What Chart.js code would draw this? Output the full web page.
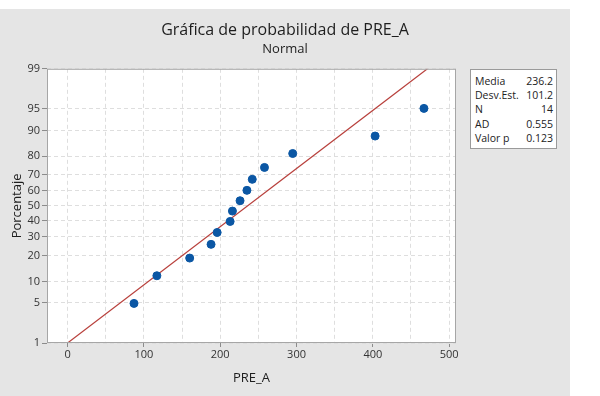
<!DOCTYPE html>
<html>
<head>
<meta charset="utf-8">
<script src="https://cdn.jsdelivr.net/npm/chart.js@4.4.1/dist/chart.umd.min.js"></script>
<style>
    body { margin: 0; background: #ffffff; font-family: "Open Sans", sans-serif; }
    #panel { position: absolute; left: 0; top: 9px; width: 570px; height: 387px; background: #e5e5e5; }
    #stats { position: absolute; left: 470px; top: 60px; width: 85px; background: #fff; border: 1px solid #9a9a9a;
             font-size: 10.5px; color: #222; padding: 4px 0 3px 0; }
    #stats table { border-collapse: collapse; width: 100%; }
    #stats td { padding: 0 3px 0 4px; line-height: 14.2px; white-space: nowrap; }
    #stats td.v { text-align: right; }
</style>
</head>
<body>
<div id="panel">
    <canvas id="probChart" width="570" height="387"></canvas>
    <div id="stats"><table id="statsTable"></table></div>
</div>
<script>
// data
const xValues = [87, 117, 160, 188, 196, 213, 216, 226, 235, 242, 258, 295, 403, 467];
const pctValues = [4.9, 11.8, 18.8, 25.7, 32.6, 39.6, 46.5, 53.5, 60.4, 67.4, 74.3, 81.3, 88.2, 95.1];
const fitX = [0, 471.6];
const fitPct = [1, 99];
const yTickPcts = [1, 5, 10, 20, 30, 40, 50, 60, 70, 80, 90, 95, 99];
const xTicks = [0, 50, 100, 150, 200, 250, 300, 350, 400, 450, 500];
const statLabels = ["Media", "Desv.Est.", "N", "AD", "Valor p"];
const statValues = ["236.2", "101.2", "14", "0.555", "0.123"];

// inverse normal cdf (Acklam), used for the probability scale
function probit(p) {
    const a = [-39.69683028665376, 220.9460984245205, -275.9285104469687, 138.357751867269, -30.66479806614716, 2.506628277459239];
    const b = [-54.47609879822406, 161.5858368580409, -155.6989798598866, 66.80131188771972, -13.28068155288572];
    const c = [-0.007784894002430293, -0.3223964580411365, -2.400758277161838, -2.549732539343734, 4.374664141464968, 2.938163982698783];
    const d = [0.007784695709041462, 0.3224671290700398, 2.445134137142996, 3.754408661907416];
    const pl = 0.02425;
    let q, r;
    if (p < pl) {
        q = Math.sqrt(-2 * Math.log(p));
        return (((((c[0]*q+c[1])*q+c[2])*q+c[3])*q+c[4])*q+c[5]) / ((((d[0]*q+d[1])*q+d[2])*q+d[3])*q+1);
    }
    if (p > 1 - pl) {
        q = Math.sqrt(-2 * Math.log(1 - p));
        return -(((((c[0]*q+c[1])*q+c[2])*q+c[3])*q+c[4])*q+c[5]) / ((((d[0]*q+d[1])*q+d[2])*q+d[3])*q+1);
    }
    q = p - 0.5;
    r = q * q;
    return (((((a[0]*r+a[1])*r+a[2])*r+a[3])*r+a[4])*r+a[5])*q / (((((b[0]*r+b[1])*r+b[2])*r+b[3])*r+b[4])*r+1);
}

const statsTable = document.getElementById("statsTable");
statLabels.forEach((lab, i) => {
    const tr = document.createElement("tr");
    tr.innerHTML = "<td>" + lab + "</td><td class='v'>" + statValues[i] + "</td>";
    statsTable.appendChild(tr);
});

const plotFrame = {
    id: "plotFrame",
    beforeDraw(chart) {
        const a = chart.chartArea, ctx = chart.ctx;
        ctx.save();
        ctx.fillStyle = "#ffffff";
        ctx.fillRect(a.left, a.top, a.right - a.left, a.bottom - a.top);
        ctx.restore();
    },
    afterDraw(chart) {
        const a = chart.chartArea, ctx = chart.ctx;
        ctx.save();
        ctx.strokeStyle = "#a6a6a6";
        ctx.lineWidth = 1;
        ctx.strokeRect(a.left + 0.5, a.top + 0.5, a.right - a.left - 1, a.bottom - a.top - 1);
        ctx.restore();
    }
};

const gridDash = { color: "#dedede", tickColor: "#8c8c8c", tickBorderDash: [], tickLength: 5 };
const tickFont = { family: "'Open Sans', sans-serif", size: 11 };

new Chart(document.getElementById("probChart").getContext("2d"), {
    data: {
        datasets: [
            {
                type: "line",
                data: fitX.map((x, i) => ({ x: x, y: probit(fitPct[i] / 100) })),
                borderColor: "#b8403c",
                borderWidth: 1.2,
                pointRadius: 0,
                order: 2
            },
            {
                type: "scatter",
                data: xValues.map((x, i) => ({ x: x, y: probit(pctValues[i] / 100) })),
                backgroundColor: "#0b57a4",
                borderColor: "#0b57a4",
                pointRadius: 4,
                order: 1
            }
        ]
    },
    options: {
        responsive: false,
        animation: false,
        layout: { padding: 0 },
        plugins: {
            legend: { display: false },
            tooltip: { enabled: false },
            title: {
                display: true,
                text: "Gráfica de probabilidad de PRE_A",
                color: "#1e1e1e",
                font: { family: "'Open Sans', sans-serif", size: 16, weight: "500" },
                padding: { top: 12, bottom: 0 }
            },
            subtitle: {
                display: true,
                text: "Normal",
                color: "#1e1e1e",
                font: { family: "'Open Sans', sans-serif", size: 13 },
                padding: { top: 1, bottom: 12 }
            }
        },
        scales: {
            x: {
                type: "linear",
                min: -27,
                max: 509,
                afterBuildTicks: (s) => { s.ticks = xTicks.map(v => ({ value: v })); },
                afterFit: (s) => { s.height = 53; },
                grid: {
                    ...gridDash,
                    tickColor: (c) => (c.tick && c.tick.value % 100 === 0) ? "#8c8c8c" : "rgba(0,0,0,0)",
                    tickLength: 4
                },
                border: { display: false, dash: [4, 3] },
                ticks: {
                    color: "#333",
                    font: tickFont,
                    padding: 1,
                    autoSkip: false,
                    maxRotation: 0,
                    callback: (v) => (v % 100 === 0 ? v : "")
                },
                title: {
                    display: true,
                    text: "PRE_A",
                    color: "#1e1e1e",
                    font: { family: "'Open Sans', sans-serif", size: 13 },
                    padding: { top: 0, bottom: 10 }
                }
            },
            y: {
                type: "linear",
                min: probit(0.01),
                max: probit(0.99),
                afterBuildTicks: (s) => { s.ticks = yTickPcts.map(p => ({ value: probit(p / 100) })); },
                afterFit: (s) => { s.width = 47; },
                grid: gridDash,
                border: { display: false, dash: [4, 3] },
                ticks: {
                    color: "#333",
                    font: tickFont,
                    padding: 2,
                    autoSkip: false,
                    callback: (v, i) => yTickPcts[i]
                },
                title: {
                    display: true,
                    text: "Porcentaje",
                    color: "#1e1e1e",
                    font: { family: "'Open Sans', sans-serif", size: 13 },
                    padding: { top: 9, bottom: 0 }
                }
            },
            // empty right-hand box that keeps room for the stats panel
            spacer: {
                type: "linear",
                position: "right",
                display: true,
                afterFit: (s) => { s.width = 114; },
                grid: { display: false },
                border: { display: false },
                ticks: { display: false }
            }
        }
    },
    plugins: [plotFrame]
});
</script>
</body>
</html>
